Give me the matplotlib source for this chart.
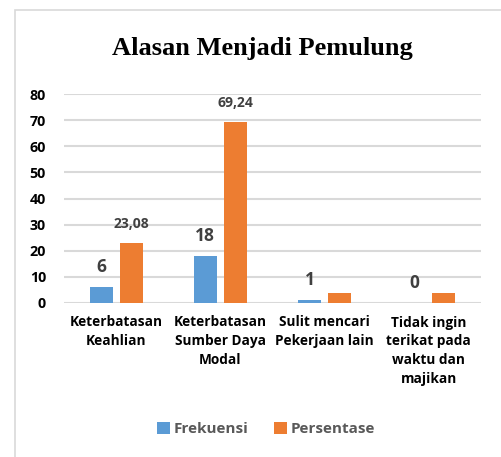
import numpy as np
import matplotlib
matplotlib.use("Agg")
import matplotlib.pyplot as plt
from matplotlib.patches import Rectangle

# data
categories = ["Keterbatasan\nKeahlian", "Keterbatasan\nSumber Daya\nModal",
              "Sulit mencari\nPekerjaan lain", "Tidak ingin\nterikat pada\nwaktu dan\nmajikan"]
frekuensi = [6, 18, 1, 0]
persentase = [23.08, 69.24, 3.85, 3.85]
frek_labels = ["6", "18", "1", "0"]
pers_labels = ["23,08", "69,24", "", ""]
yticks = [0, 10, 20, 30, 40, 50, 60, 70, 80]

blue = "#5B9BD5"
orange = "#ED7D31"
grid_c = "#D9D9D9"
font = ["Open Sans", "DejaVu Sans"]

fig = plt.figure(figsize=(5.01, 4.57), dpi=100)

# outer chart border (left + top visible)
fig.add_artist(Rectangle((15 / 501, -0.1), 1.2, 1 - 10 / 457 + 0.1, transform=fig.transFigure,
                         fill=False, edgecolor=grid_c, lw=1.2))

ax = fig.add_axes([64 / 501, 1 - 303 / 457, 417 / 501, 209 / 457])
x = np.arange(len(categories))
off = 15 / 104.25
w = 23 / 104.25
b1 = ax.bar(x - off, frekuensi, w, color=blue, label="Frekuensi", zorder=3)
b2 = ax.bar(x + off, persentase, w, color=orange, label="Persentase", zorder=3)

for xi, v, s in zip(x, frekuensi, frek_labels):
    if s:
        ax.annotate(s, (xi - off, v), xytext=(0, 20), textcoords="offset pixels",
                    ha="center", va="center", fontsize=12.5, fontweight="bold",
                    color="#404040", family=font)
for xi, v, s in zip(x, persentase, pers_labels):
    if s:
        ax.annotate(s, (xi + off, v), xytext=(0, 19), textcoords="offset pixels",
                    ha="center", va="center", fontsize=10, fontweight="bold",
                    color="#404040", family=font)

ax.set_xlim(-0.5, len(categories) - 0.5)
ax.set_ylim(0, 80)
ax.set_yticks(yticks)
ax.yaxis.grid(True, color=grid_c, lw=1.5, zorder=0)
for sp in ax.spines.values():
    sp.set_visible(False)
ax.tick_params(axis="both", length=0)
ax.tick_params(axis="y", pad=13)
ax.tick_params(axis="x", pad=9)
ax.set_xticks(x)
ax.set_xticklabels(categories, linespacing=1.45, va="top")
for lab in ax.get_yticklabels():
    lab.set_fontsize(10.3)
for lab in ax.get_xticklabels():
    lab.set_fontsize(9.8)
for lab in ax.get_xticklabels() + ax.get_yticklabels():
    lab.set_fontweight("bold")
    lab.set_family(font)
    lab.set_color("black")

fig.text(262 / 501, 1 - 48 / 457, "Alasan Menjadi Pemulung", ha="center", va="center",
         fontsize=19, fontweight="bold", family="Liberation Serif")

leg = fig.legend(handles=[b1, b2], loc="center", bbox_to_anchor=(266 / 501, 1 - 429 / 457),
                 ncol=2, frameon=False, handlelength=0.85, handleheight=0.85,
                 columnspacing=1.7, handletextpad=0.25,
                 prop={"family": font, "weight": "bold", "size": 11})
for t in leg.get_texts():
    t.set_color("#595959")

fig.savefig("out.png", dpi=100)
